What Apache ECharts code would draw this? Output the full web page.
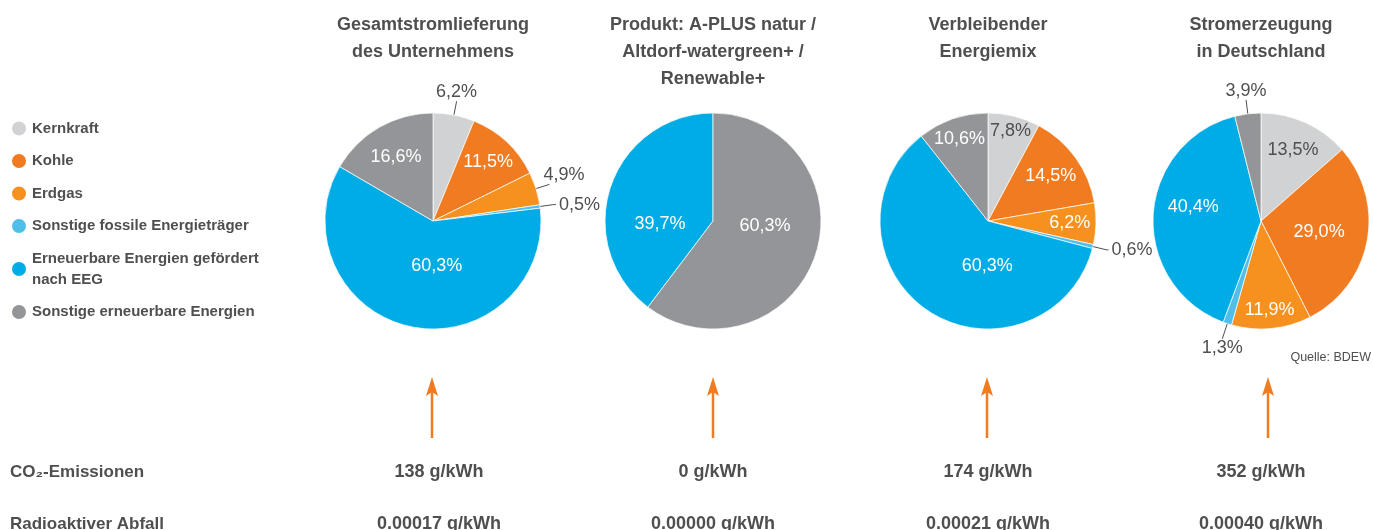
<!DOCTYPE html>
<html>
<head>
<meta charset="utf-8">
<script src="https://cdn.jsdelivr.net/npm/echarts@6/dist/echarts.min.js"></script>
<style>
html,body{margin:0;padding:0;background:#ffffff;}
#chart{width:1373px;height:530px;}
</style>
</head>
<body>
<div id="chart"></div>
<script>
// ---------- DATA ----------
const categories = [
  'Kernkraft',
  'Kohle',
  'Erdgas',
  'Sonstige fossile Energieträger',
  'Erneuerbare Energien gefördert nach EEG',
  'Sonstige erneuerbare Energien'
];
const pieTitles = [
  'Gesamtstromlieferung\ndes Unternehmens',
  'Produkt: A-PLUS natur /\nAltdorf-watergreen+ /\nRenewable+',
  'Verbleibender\nEnergiemix',
  'Stromerzeugung\nin Deutschland'
];
const shareUnternehmen = [6.2, 11.5, 4.9, 0.5, 60.3, 16.6];
const shareProdukt = [0, 0, 0, 0, 39.7, 60.3];
const shareVerbleibend = [7.8, 14.5, 6.2, 0.6, 60.3, 10.6];
const shareDeutschland = [13.5, 29.0, 11.9, 1.3, 40.4, 3.9];
const rowLabels = ['CO\u2082-Emissionen', 'Radioaktiver Abfall'];
const co2Labels = ['138 g/kWh', '0 g/kWh', '174 g/kWh', '352 g/kWh'];
const wasteLabels = ['0.00017 g/kWh', '0.00000 g/kWh', '0.00021 g/kWh', '0.00040 g/kWh'];
const sourceNote = 'Quelle: BDEW';

// ---------- STYLE / LAYOUT ----------
const FONT = "'Liberation Sans', Arial, sans-serif";
const TEXT_DARK = '#4f4f4f';
const colors = ['#d1d2d4', '#f07b21', '#f6911f', '#4fbfea', '#00ace6', '#939598'];
const centersX = [433, 713, 988, 1261];
const centerY = 221;
const R = 108;
const clockwiseFlags = [true, false, true, true];
// label placement per pie/category: number = radius ratio of inside label, string = outside style
const labelPlacement = [
  ['top', 0.72, 'upRight', 'side', 0.39, 0.66],
  [null, null, null, null, 0.46, 0.46],
  [0.83, 0.69, 0.73, 'side', 0.39, 0.78],
  [0.69, 0.52, 0.80, 'bottom', 0.60, 'top']
];
// small label nudges [dx, dy] for hand-placed labels in the reference
const labelNudge = {
  '0_4': [13, 1],
  '1_4': [-3, 20],
  '1_5': [2, -12],
  '2_4': [24, 7],
  '3_4': [0, -10]
};
const outsideStyles = {
  top:     {length: 14, length2: 0, distance: 0,  align: 'center', verticalAlign: 'bottom'},
  bottom:  {length: 16, length2: 0, distance: 0,  align: 'center', verticalAlign: 'top'},
  upRight: {length: 14, length2: 0, distance: -6, align: 'left',   verticalAlign: 'bottom'},
  side:    {length: 14, length2: 2, distance: 3,  align: 'left',   verticalAlign: 'middle'}
};
const textColX = [439, 713, 988, 1261];
const arrowX = [432, 713, 987, 1268];
const rowY = [472, 524];

const fmt = v => v.toFixed(1).replace('.', ',') + '%';
const shares = [shareUnternehmen, shareProdukt, shareVerbleibend, shareDeutschland];

const baseSeries = [];
const overlaySeries = [];
shares.forEach((vals, p) => {
  const place = labelPlacement[p];
  const items = categories.map((c, i) => ({c, i, v: vals[i]})).filter(o => o.v > 0);
  const common = {
    type: 'pie',
    center: [centersX[p], centerY],
    startAngle: 90,
    clockwise: clockwiseFlags[p],
    avoidLabelOverlap: false,
    animation: false,
    emphasis: {disabled: true},
    labelLine: {show: false}
  };
  baseSeries.push(Object.assign({}, common, {
    name: 'pie' + p,
    radius: R,
    z: 2,
    itemStyle: {borderColor: '#ffffff', borderWidth: 0.7},
    label: {show: false, fontFamily: FONT},
    data: items.map(o => {
      const st = typeof place[o.i] === 'string' ? outsideStyles[place[o.i]] : null;
      const d = {name: o.c, value: o.v, itemStyle: {color: colors[o.i]}};
      if (st) {
        d.label = {show: true, position: 'outside', formatter: p2 => fmt(p2.value),
          color: TEXT_DARK, fontSize: 18, fontFamily: FONT, distanceToLabelLine: st.distance};
        d.labelLine = {show: true, length: st.length, length2: st.length2,
          lineStyle: {color: TEXT_DARK, width: 1}};
      } else {
        d.label = {show: false};
      }
      return d;
    }),
    labelLayout: params => {
      const o = items[params.dataIndex];
      const key = o ? place[o.i] : null;
      if (typeof key === 'string') {
        const st = outsideStyles[key];
        return {align: st.align, verticalAlign: st.verticalAlign};
      }
      return {};
    }
  }));
  items.forEach(target => {
    const rho = place[target.i];
    if (typeof rho !== 'number') return;
    const radius = rho >= 0.5 ? [(2 * rho - 1) * R, R] : [0, 2 * rho * R];
    const nudge = labelNudge[p + '_' + target.i] || [0, 0];
    overlaySeries.push(Object.assign({}, common, {
      name: 'labels' + p + '_' + target.i,
      radius: radius,
      z: 3,
      silent: true,
      legendHoverLink: false,
      itemStyle: {color: 'rgba(0,0,0,0)', borderWidth: 0},
      label: {show: false},
      labelLayout: () => ({dx: nudge[0], dy: nudge[1]}),
      data: items.map(o => ({
        name: o.c, value: o.v,
        itemStyle: {color: 'rgba(0,0,0,0)'},
        label: o.i === target.i ? {
          show: true, position: 'inside', formatter: p2 => fmt(p2.value),
          color: o.i === 0 ? TEXT_DARK : '#ffffff', fontSize: 18, fontFamily: FONT
        } : {show: false}
      }))
    }));
  });
});

const graphics = [];
rowLabels.forEach((t, r) => {
  graphics.push({type: 'text', x: 10, y: rowY[r], silent: true,
    style: {text: t, fill: TEXT_DARK, font: 'bold 17px ' + FONT, align: 'left', verticalAlign: 'middle'}});
});
[co2Labels, wasteLabels].forEach((arr, r) => {
  arr.forEach((t, k) => {
    graphics.push({type: 'text', x: textColX[k], y: rowY[r], silent: true,
      style: {text: t, fill: TEXT_DARK, font: 'bold 18px ' + FONT, align: 'center', verticalAlign: 'middle'}});
  });
});
arrowX.forEach(x => {
  graphics.push({type: 'line', silent: true, shape: {x1: x, y1: 438, x2: x, y2: 390},
    style: {stroke: '#f07b21', lineWidth: 2.5}});
  graphics.push({type: 'polygon', silent: true,
    shape: {points: [[x, 377], [x - 6, 396], [x, 392], [x + 6, 396]]},
    style: {fill: '#f07b21'}});
});
graphics.push({type: 'text', x: 1371, y: 358, silent: true,
  style: {text: sourceNote, fill: TEXT_DARK, font: '12.5px ' + FONT, align: 'right', verticalAlign: 'middle'}});

const option = {
  animation: false,
  backgroundColor: '#ffffff',
  title: pieTitles.map((t, p) => ({
    text: t,
    left: centersX[p],
    top: 12,
    textAlign: 'center',
    padding: 0,
    textStyle: {fontSize: 18, fontWeight: 'bold', color: TEXT_DARK, lineHeight: 27, fontFamily: FONT}
  })),
  legend: {
    orient: 'vertical',
    left: 10,
    top: 118,
    padding: 0,
    itemGap: 11.5,
    itemWidth: 16,
    itemHeight: 16,
    icon: 'circle',
    selectedMode: false,
    data: categories,
    formatter: n => n.replace('gefördert ', 'gefördert\n'),
    textStyle: {fontSize: 15, fontWeight: 'bold', color: TEXT_DARK, lineHeight: 21, fontFamily: FONT}
  },
  series: baseSeries.concat(overlaySeries),
  graphic: graphics
};

const chart = echarts.init(document.getElementById('chart'), null, {renderer: 'canvas'});
chart.setOption(option);
</script>
</body>
</html>
